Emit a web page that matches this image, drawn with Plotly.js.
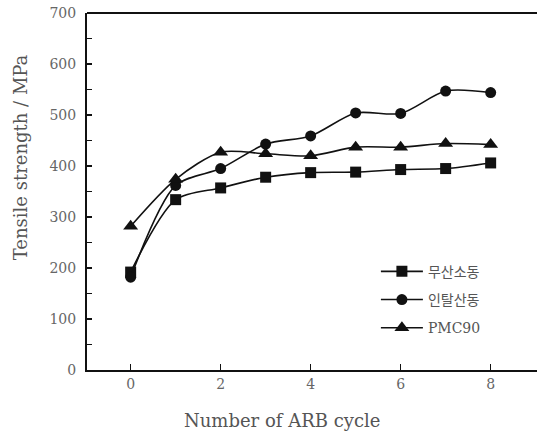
<!DOCTYPE html>
<html>
<head>
<meta charset="utf-8">
<script src="https://cdn.plot.ly/plotly-3.0.1.min.js"></script>
<style>html,body{margin:0;padding:0;background:#fff;}#chart{width:537px;height:436px;}</style>
</head>
<body>
<div id="chart"></div>
<script>
var cycles = [0, 1, 2, 3, 4, 5, 6, 7, 8];
var seriesNames = ['무산소동', '인탈산동', 'PMC90'];
var oxygenFree = [192, 334, 357, 378, 387, 388, 393, 395, 406];
var deoxidized = [182, 362, 395, 443, 459, 504, 503, 547, 544];
var pmc90 = [282, 374, 427, 424, 420, 437, 437, 444, 442];
var xTickVals = [0, 2, 4, 6, 8];
var yTickVals = [0, 100, 200, 300, 400, 500, 600, 700];
var xTitle = 'Number of ARB cycle';
var yTitle = 'Tensile strength / MPa';

var serif = '"DejaVu Serif", "Noto Sans CJK KR", serif';
var symbols = ['square', 'circle', 'triangle-up'];
var data = [oxygenFree, deoxidized, pmc90].map(function (ys, i) {
  return {
    x: cycles, y: ys, name: seriesNames[i], legendgroup: 'g' + i,
    mode: 'lines+markers', type: 'scatter',
    line: {color: '#111', width: 1.6, shape: 'spline', smoothing: 0.8},
    marker: {symbol: symbols[i], size: i === 2 ? 13 : 11, color: '#111'}
  };
});

var layout = {
  width: 537, height: 436,
  margin: {l: 87, r: 0, t: 13, b: 66},
  paper_bgcolor: '#fff', plot_bgcolor: '#fff',
  font: {family: serif, color: '#555', size: 14},
  showlegend: true,
  legend: {x: 0.642, y: 0.32, xanchor: 'left', yanchor: 'top', bgcolor: 'rgba(0,0,0,0)',
           font: {family: serif, size: 14, color: '#555'}, tracegroupgap: 7, itemwidth: 42},
  xaxis: {
    range: [-0.97, 9.03], tickvals: xTickVals, ticks: 'inside', ticklen: 6, tickwidth: 1.5,
    tickcolor: '#111', showline: true, linecolor: '#111', linewidth: 2, showgrid: false,
    zeroline: false, tickfont: {size: 14, color: '#666'}
  },
  yaxis: {
    range: [0, 700], tickvals: yTickVals, ticks: 'inside', ticklen: 5, tickwidth: 1.5,
    tickcolor: '#111', showline: true, linecolor: '#111', linewidth: 2, showgrid: false,
    zeroline: false, tickfont: {size: 14, color: '#666'}, ticklabelstandoff: 6,
    minor: {dtick: 50, ticks: 'inside', ticklen: 5, tickwidth: 1.5, tickcolor: '#111', showgrid: false}
  },
  annotations: [
    {text: xTitle, xref: 'paper', yref: 'paper', x: 0.433, y: -0.142, xanchor: 'center', yanchor: 'middle',
     showarrow: false, font: {family: serif, size: 18, color: '#555'}},
    {text: yTitle, xref: 'paper', yref: 'paper', x: -0.148, y: 0.597, xanchor: 'center', yanchor: 'middle',
     textangle: -90, showarrow: false, font: {family: serif, size: 18, color: '#555'}}
  ],
  shapes: [{type: 'line', xref: 'paper', yref: 'paper', x0: 0, x1: 1, y0: 1, y1: 1,
            line: {color: '#111', width: 2}}]
};

Plotly.newPlot('chart', data, layout, {displayModeBar: false, staticPlot: true});
</script>
</body>
</html>
